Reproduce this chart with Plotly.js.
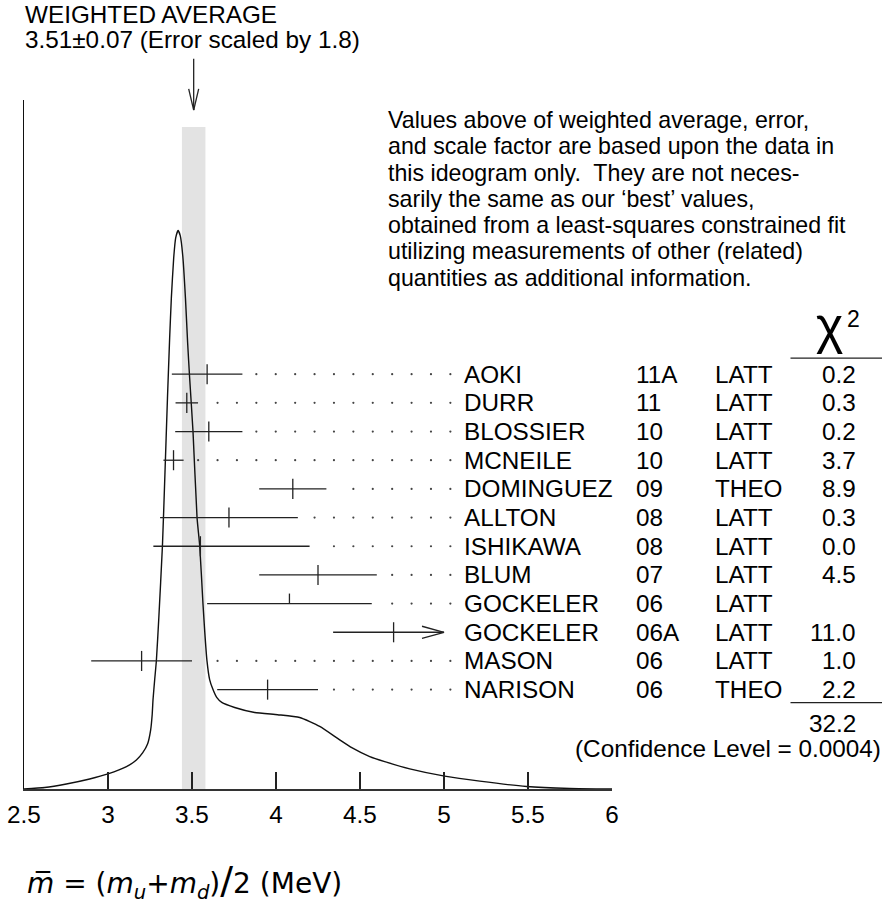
<!DOCTYPE html>
<html><head><meta charset="utf-8">
<script src="https://cdn.plot.ly/plotly-3.0.1.min.js"></script>
<style>html,body{margin:0;padding:0;background:#fff;} #chart{width:882px;height:911px;}</style>
</head><body><div id="chart"></div>
<script>
// ---------- data ----------
const authors = ["AOKI","DURR","BLOSSIER","MCNEILE","DOMINGUEZ","ALLTON","ISHIKAWA","BLUM","GOCKELER","GOCKELER","MASON","NARISON"];
const years = ["11A","11","10","10","09","08","08","07","06","06A","06","06"];
const techniques = ["LATT","LATT","LATT","LATT","THEO","LATT","LATT","LATT","LATT","LATT","LATT","THEO"];
const values = [3.59, 3.469, 3.6, 3.39, 4.1, 3.72, 3.55, 4.25, 4.08, 4.7, 3.2, 3.95];
const errLow = [0.21, 0.067, 0.2, 0.06, 0.2, 0.41, 0.28, 0.35, 0.49, 0.36, 0.3, 0.3];
const errHigh = [0.21, 0.067, 0.2, 0.06, 0.2, 0.41, 0.65, 0.35, 0.49, 0.36, 0.3, 0.3];
const chi2 = ["0.2","0.3","0.2","3.7","8.9","0.3","0.0","4.5","","11.0","1.0","2.2"];
const usedInAverage = [true,true,true,true,true,true,true,true,false,true,true,true];
const arrowTip = [null,null,null,null,null,null,null,null,null,5.0,null,null];
const chi2Total = "32.2";
const confidenceLevel = "0.0004";
const weightedAverage = 3.51;
const averageError = 0.07;
const scaleFactor = 1.8;
// ideogram curve (arbitrary units, peak = 1)
const curveX = [2.50,2.623,2.752,2.891,3.000,3.110,3.169,3.207,3.236,3.254,3.263,3.268,3.278,3.288,3.302,3.324,3.338,3.354,3.367,3.377,3.391,3.403,3.417,3.430,3.445,3.461,3.474,3.486,3.506,3.530,3.546,3.565,3.576,3.589,3.605,3.625,3.647,3.677,3.754,3.873,4.010,4.141,4.260,4.379,4.451,4.558,4.647,4.796,5.004,5.213,5.492,5.748,6.0];
const curveY = [0,0.0027,0.009,0.018,0.027,0.040,0.052,0.065,0.081,0.106,0.133,0.160,0.196,0.230,0.304,0.435,0.556,0.700,0.808,0.879,0.951,0.987,1.000,0.991,0.955,0.879,0.799,0.736,0.640,0.486,0.435,0.333,0.281,0.230,0.196,0.178,0.164,0.155,0.146,0.137,0.133,0.128,0.112,0.088,0.074,0.058,0.049,0.036,0.023,0.014,0.0045,0.001,0];
const xTicks = [2.5,3,3.5,4,4.5,5,5.5,6];
const xTickLabels = ["2.5","3","3.5","4","4.5","5","5.5","6"];

// ---------- geometry helpers (pixels -> paper) ----------
const PL = 24, PW = 588, PB = 789, PH = 686;
const px2x = px => (px - PL) / PW;
const py2y = py => (PB - py) / PH;
const FONT = "Liberation Sans, Arial, Helvetica, sans-serif";
const INK = "#222";

// ---------- error bars ----------
const TICK = 0.35; // row units
const ex = [], ey = [];
values.forEach((v, i) => {
  const lo = v - errLow[i];
  const hi = arrowTip[i] !== null ? arrowTip[i] : v + errHigh[i];
  ex.push(lo, hi, null); ey.push(i, i, null);
  ex.push(v, v, null); ey.push(i - TICK, usedInAverage[i] ? i + TICK : i, null);
  if (arrowTip[i] !== null) {
    const back = 22 / 168;
    ex.push(hi - back, hi, hi - back, null); ey.push(i - 0.21, i, i + 0.21, null);
  }
});

// ---------- dotted leaders ----------
const DOT_LAST = 5.038, DOT_STEP = 0.1155;
const dx = [], dy = [];
values.forEach((v, i) => {
  const end = arrowTip[i] !== null ? arrowTip[i] : v + errHigh[i];
  for (let d = DOT_LAST; d > 2.5; d -= DOT_STEP) {
    if (d > end + 0.065) { dx.push(d); dy.push(i); }
  }
});

const traces = [
  {x: curveX, y: curveY, type: "scatter", mode: "lines", yaxis: "y",
   line: {color: "#111", width: 1.4, shape: "spline", smoothing: 0.5}, hoverinfo: "skip"},
  {x: ex, y: ey, type: "scatter", mode: "lines", yaxis: "y2",
   line: {color: INK, width: 1.3}, hoverinfo: "skip"},
  {x: dx, y: dy, type: "scatter", mode: "markers", yaxis: "y2",
   marker: {color: "#444", size: 2.2, symbol: "circle"}, hoverinfo: "skip"}
];

// ---------- annotations ----------
const ann = [];
const txt = (text, x, y, xanchor, size, extra) => Object.assign({
  text, x, y, xref: "paper", yref: "paper", xanchor, yanchor: "middle",
  showarrow: false, borderpad: 0, font: {family: FONT, size, color: "#000"}
}, extra || {});

ann.push(txt("WEIGHTED AVERAGE", px2x(24), py2y(18), "left", 24.3));
ann.push(txt(weightedAverage.toFixed(2) + "±" + averageError.toFixed(2) + " (Error scaled by " + scaleFactor + ")", px2x(24), py2y(43), "left", 24.3));

const para = [
  "Values above of weighted average, error,",
  "and scale factor are based upon the data in",
  "this ideogram only.\u00a0 They are not neces-",
  "sarily the same as our \u2018best\u2019 values,",
  "obtained from a least-squares constrained fit",
  "utilizing measurements of other (related)",
  "quantities as additional information."
];
para.forEach((line, k) => ann.push(txt(line, px2x(387), py2y(123 + 26.15 * k), "left", 23.2)));

authors.forEach((a, i) => {
  const row = {yref: "y2", y: i};
  ann.push(txt(a, px2x(463), i, "left", 24.3, row));
  ann.push(txt(years[i], px2x(635), i, "left", 24.3, row));
  ann.push(txt(techniques[i], px2x(714), i, "left", 24.3, row));
  if (chi2[i]) ann.push(txt(chi2[i], px2x(857), i, "right", 24.3, row));
});

ann.push(txt("χ", px2x(829), py2y(327), "center", 52, {font: {family: FONT, size: 52, color: "#000"}}));
ann.push(txt("2", px2x(853), py2y(321), "center", 23));
ann.push(txt(chi2Total, px2x(857), py2y(724), "right", 24.3));
ann.push(txt("(Confidence Level = " + confidenceLevel + ")", px2x(882), py2y(749), "right", 24.3));

ann.push(txt("<i>m\u0305</i> = (<i>m</i><sub><i>u</i></sub>+<i>m</i><sub><i>d</i></sub>)<span style=\"font-size:38px\">/</span>2 (MeV)",
  px2x(26), py2y(881), "left", 28, {font: {family: "DejaVu Sans, sans-serif", size: 28, color: "#000"}}));

// ---------- shapes ----------
const shapes = [
  {type: "rect", xref: "x", yref: "paper", x0: weightedAverage - averageError, x1: weightedAverage + averageError,
   y0: 0, y1: py2y(130), fillcolor: "#e3e3e3", line: {width: 0}, layer: "below"},
  {type: "line", xref: "x", yref: "paper", x0: weightedAverage, x1: weightedAverage, y0: py2y(62), y1: py2y(113), line: {color: INK, width: 1.3}},
  {type: "line", xref: "x", yref: "paper", x0: weightedAverage - 5/168, x1: weightedAverage, y0: py2y(92), y1: py2y(113), line: {color: INK, width: 1.3}},
  {type: "line", xref: "x", yref: "paper", x0: weightedAverage + 5/168, x1: weightedAverage, y0: py2y(92), y1: py2y(113), line: {color: INK, width: 1.3}},
  {type: "line", xref: "paper", yref: "paper", x0: px2x(790.5), x1: px2x(882), y0: py2y(360), y1: py2y(360), line: {color: INK, width: 1.3}},
  {type: "line", xref: "paper", yref: "paper", x0: px2x(790.5), x1: px2x(882), y0: py2y(703), y1: py2y(703), line: {color: INK, width: 1.3}}
];

const rowTop = (103 - 376) / 28.55, rowBottom = (789 - 376) / 28.55;

const layout = {
  width: 882, height: 911,
  margin: {l: PL, r: 882 - PL - PW, t: 911 - PB - PH, b: 911 - PB, pad: 0},
  paper_bgcolor: "#fff", plot_bgcolor: "rgba(0,0,0,0)",
  showlegend: false,
  font: {family: FONT, color: "#000"},
  xaxis: {range: [2.5, 6], tickvals: xTicks, ticktext: xTickLabels, ticks: "inside", ticklen: 17,
          tickwidth: 1.3, tickcolor: INK, showline: true, linecolor: "#333", linewidth: 1.5,
          ticklabelstandoff: 3,
          showgrid: false, zeroline: false, tickfont: {family: FONT, size: 24.3, color: "#000"}, fixedrange: true},
  yaxis: {range: [0, PH / 556], showline: true, linecolor: "#111", linewidth: 1.5, ticks: "",
          showticklabels: false, showgrid: false, zeroline: false, fixedrange: true},
  yaxis2: {range: [rowBottom, rowTop], overlaying: "y", visible: false, fixedrange: true},
  annotations: ann,
  shapes: shapes
};

Plotly.newPlot("chart", traces, layout, {staticPlot: true, displayModeBar: false});
</script>
</body></html>
